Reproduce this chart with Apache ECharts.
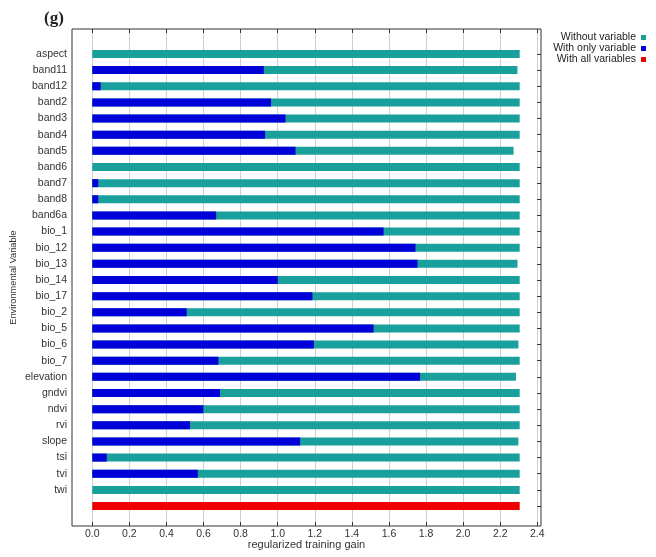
<!DOCTYPE html>
<html>
<head>
<meta charset="utf-8">
<script src="https://cdn.jsdelivr.net/npm/echarts@6/dist/echarts.min.js"></script>
<style>
html,body{margin:0;padding:0;background:#fff;}
#chart{width:656px;height:557px;}
</style>
</head>
<body>
<div id="chart"></div>
<script>
const variables = ['aspect','band11','band12','band2','band3','band4','band5','band6','band7','band8','band6a','bio_1','bio_12','bio_13','bio_14','bio_17','bio_2','bio_5','bio_6','bio_7','elevation','gndvi','ndvi','rvi','slope','tsi','tvi','twi'];
const withoutVariable = [2.305,2.293,2.305,2.305,2.305,2.305,2.272,2.305,2.305,2.305,2.305,2.305,2.305,2.293,2.305,2.305,2.305,2.305,2.298,2.305,2.285,2.305,2.305,2.305,2.298,2.305,2.305,2.305];
const withOnlyVariable = [0,0.925,0.045,0.964,1.042,0.932,1.096,0,0.032,0.032,0.668,1.571,1.743,1.754,1.0,1.187,0.509,1.517,1.195,0.68,1.768,0.689,0.599,0.527,1.121,0.078,0.569,0];
const withAllVariables = 2.305;
const xTicks = [0.0,0.2,0.4,0.6,0.8,1.0,1.2,1.4,1.6,1.8,2.0,2.2,2.4];

const categories = variables.concat(['']);
const teal = withoutVariable.concat([null]);
const blue = withOnlyVariable.concat([null]);
const red = variables.map(() => null).concat([withAllVariables]);

const FONT = '"Liberation Sans", Arial, sans-serif';
const chart = echarts.init(document.getElementById('chart'), null, {renderer:'canvas'});
const option = {
  animation: false,
  backgroundColor: '#fff',
  title: {
    text: '(g)', left: 39, top: 5,
    textStyle: {fontFamily: '"Liberation Serif", "Times New Roman", serif', fontWeight: 'bold', fontSize: 17, color: '#222'}
  },
  legend: {
    orient: 'vertical', right: 5, top: 27, align: 'right',
    itemWidth: 5, itemHeight: 5, itemGap: 0,
    icon: 'rect',
    textStyle: {fontFamily: FONT, fontSize: 10.5, color: '#222', lineHeight: 9.5, padding: [0, 0, 0, 0]},
    data: ['Without variable', 'With only variable', 'With all variables']
  },
  grid: [
    {left: 72, right: 115, top: 29, bottom: 31, show: true, borderColor: '#333', borderWidth: 1, backgroundColor: 'transparent'},
    {left: 92.3, right: 118.7, top: 29, bottom: 31},
    {left: 92.3, right: 118.7, top: 45.9, bottom: 42.9}
  ],
  xAxis: [
    {gridIndex: 0, type: 'value', min: 0, max: 1,
     axisLine: {show: false}, axisTick: {show: false}, axisLabel: {show: false}, splitLine: {show: false},
     name: 'regularized training gain', nameLocation: 'middle', nameGap: 13,
     nameTextStyle: {fontFamily: FONT, fontSize: 11, color: '#333'}},
    {gridIndex: 1, type: 'value', min: 0, max: 2.4, interval: 0.2, position: 'bottom',
     axisLine: {show: false},
     axisTick: {show: true, inside: true, length: 4, lineStyle: {color: '#333'}},
     splitLine: {show: true, lineStyle: {color: '#d0d0d0', width: 1}},
     axisLabel: {margin: 3, fontFamily: FONT, fontSize: 10.5, color: '#333', formatter: v => xTicks.includes(+v.toFixed(1)) ? v.toFixed(1) : ''}},
    {gridIndex: 1, type: 'value', min: 0, max: 2.4, interval: 0.2, position: 'top',
     axisLine: {show: false},
     axisTick: {show: true, inside: true, length: 4, lineStyle: {color: '#333'}},
     splitLine: {show: false}, axisLabel: {show: false}},
    {gridIndex: 2, type: 'value', min: 0, max: 2.4, show: false}
  ],
  yAxis: [
    {gridIndex: 0, type: 'value', min: 0, max: 1,
     axisLine: {show: false}, axisTick: {show: false}, axisLabel: {show: false}, splitLine: {show: false},
     name: 'Environmental Variable', nameLocation: 'middle', nameGap: 54,
     nameTextStyle: {fontFamily: FONT, fontSize: 9.2, color: '#333'}},
    {gridIndex: 1, type: 'value', show: false},
    {gridIndex: 2, type: 'category', data: categories, inverse: true, position: 'left', offset: 20.3,
     axisLine: {show: false},
     axisTick: {show: true, inside: true, length: 4, alignWithLabel: true, lineStyle: {color: '#333'}},
     axisLabel: {margin: 5, fontFamily: FONT, fontSize: 10.5, color: '#333'}},
    {gridIndex: 2, type: 'category', data: categories, inverse: true, position: 'right', offset: 3.7,
     axisLine: {show: false},
     axisTick: {show: true, inside: true, length: 4, alignWithLabel: true, lineStyle: {color: '#333'}},
     axisLabel: {show: false}}
  ],
  series: [
    {name: 'Without variable', type: 'bar', xAxisIndex: 3, yAxisIndex: 2, data: teal, barWidth: 8, barGap: '-100%',
     itemStyle: {color: '#1aa09c'}},
    {name: 'With only variable', type: 'bar', xAxisIndex: 3, yAxisIndex: 2, data: blue, barWidth: 8, barGap: '-100%',
     itemStyle: {color: '#0000d8'}},
    {name: 'With all variables', type: 'bar', xAxisIndex: 3, yAxisIndex: 2, data: red, barWidth: 8, barGap: '-100%',
     itemStyle: {color: '#ee0000'}}
  ]
};
chart.setOption(option);
</script>
</body>
</html>
